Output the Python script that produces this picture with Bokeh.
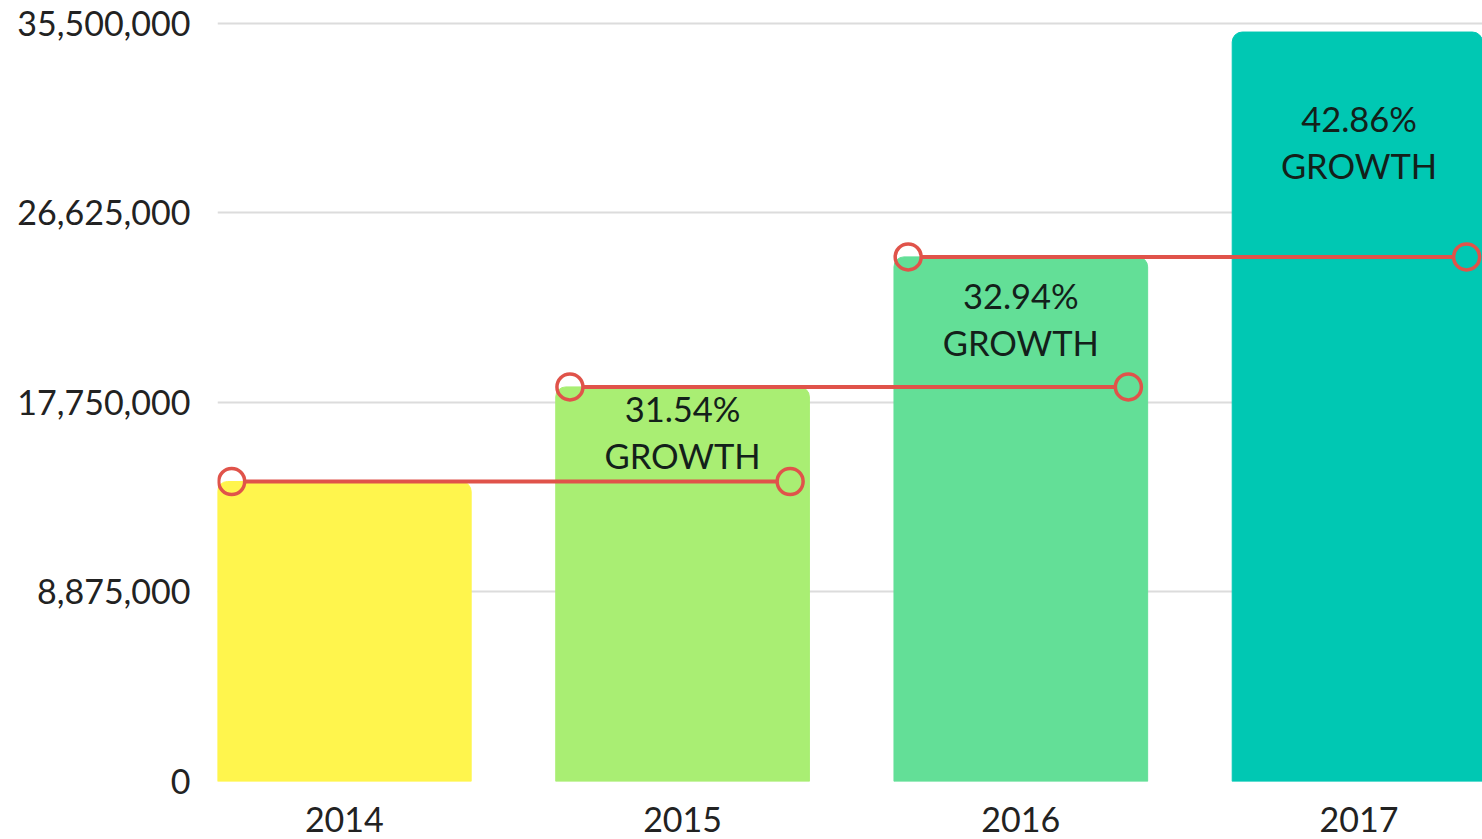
from bokeh.plotting import figure
from bokeh.models import Range1d, FixedTicker, NumeralTickFormatter, ColumnDataSource
from bokeh.core.properties import value
from bokeh.embed import file_html
from bokeh.resources import INLINE

years = ["2014", "2015", "2016", "2017"]
revenue = [14050000, 18480000, 24570000, 35100000]
growth_labels = ["", "31.54%", "32.94%", "42.86%"]
bar_colors = ["#FFF54D", "#A9EE73", "#63DF97", "#00C8B3"]
y_ticks = [0, 8875000, 17750000, 26625000, 35500000]
label_offsets_px = [0, 22, 39, 86]  # pixel distance of the label from the bar top

FONT = "Lato"
UNITS_PER_PX = 35500000 / 758.0
X_UNITS_PER_PX = 1 / 338.5

xs = list(range(len(years)))

p = figure(width=1482, height=839, output_backend="svg", toolbar_location=None,
           x_range=Range1d(-0.375, 3.365), y_range=Range1d(0, 36015000),
           min_border_left=217, min_border_right=0, min_border_top=12, min_border_bottom=58)
p.outline_line_color = None
p.background_fill_color = "white"
p.border_fill_color = "white"

src = ColumnDataSource(dict(x=xs, top=revenue, color=bar_colors))
p.vbar(x="x", top="top", width=0.75, color="color", source=src,
       border_radius=(10, 10, 0, 0))

# growth labels
lx, ly1, ly2, t1, t2 = [], [], [], [], []
for i in xs:
    if growth_labels[i]:
        lx.append(i)
        ly1.append(revenue[i] - label_offsets_px[i] * UNITS_PER_PX)
        ly2.append(revenue[i] - (label_offsets_px[i] + 47) * UNITS_PER_PX)
        t1.append(growth_labels[i])
        t2.append("GROWTH")
for ys, ts in ((ly1, t1), (ly2, t2)):
    p.text(x=lx, y=ys, text=ts, text_font=value(FONT), text_font_size="34.5px",
           text_color="#13201a", text_align="center", text_baseline="middle")

# connecting lines from each year's value to the next bar
r_units = 13 * X_UNITS_PER_PX
sx0, sx1, sy, cx, cy = [], [], [], [], []
for i in range(len(years) - 1):
    a = i - 0.333
    b = i + 1 + 0.318
    sx0.append(a + r_units)
    sx1.append(b - r_units)
    sy.append(revenue[i])
    cx += [a, b]
    cy += [revenue[i], revenue[i]]
p.segment(x0=sx0, x1=sx1, y0=sy, y1=sy, line_color="#E0534A", line_width=4)
p.scatter(x=cx, y=cy, size=26, marker="circle", fill_color=None,
          line_color="#E0534A", line_width=3.5)

# axes
p.xaxis.ticker = FixedTicker(ticks=xs)
p.xaxis.major_label_overrides = {i: y for i, y in zip(xs, years)}
p.yaxis.ticker = FixedTicker(ticks=y_ticks)
p.yaxis.formatter = NumeralTickFormatter(format="0,0")
for ax in (p.xaxis, p.yaxis):
    ax.axis_line_color = None
    ax.major_tick_line_color = None
    ax.minor_tick_line_color = None
    ax.major_label_text_font = FONT
    ax.major_label_text_font_size = "34px"
    ax.major_label_text_color = "#222222"
p.yaxis.major_label_standoff = 21
p.xaxis.major_label_standoff = 19

p.xgrid.grid_line_color = None
p.ygrid.grid_line_color = "#DCDCDC"
p.ygrid.grid_line_width = 2
p.ygrid.level = "underlay"

open("out.html", "w").write(file_html(p, INLINE))
